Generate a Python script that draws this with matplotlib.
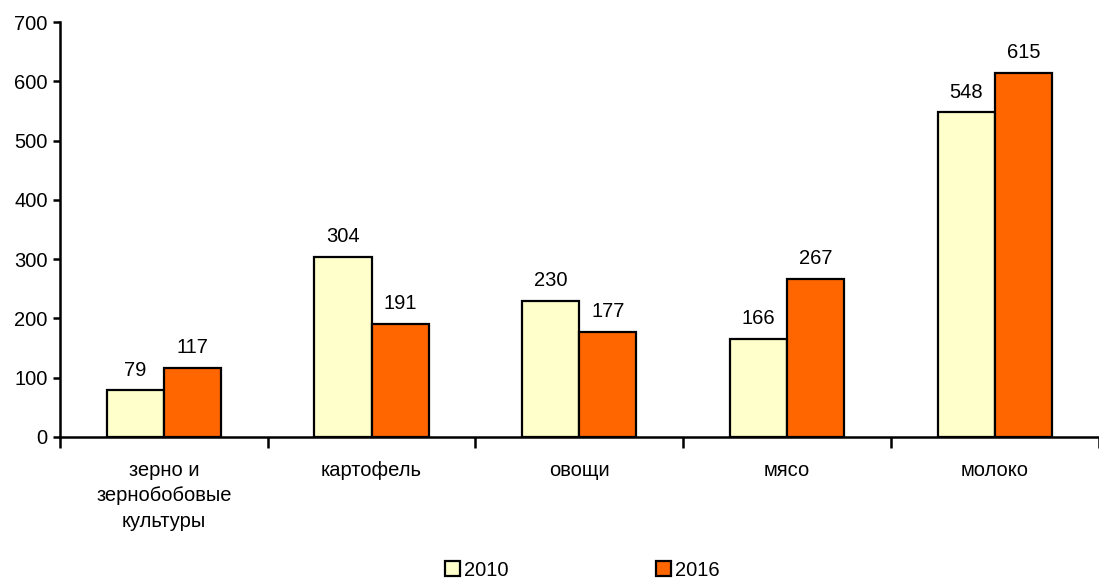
import numpy as np
import matplotlib
matplotlib.use("Agg")
import matplotlib.pyplot as plt
from matplotlib.patches import Patch

plt.rcParams['font.family'] = ['Liberation Sans', 'DejaVu Sans']

# data
categories = ["зерно и\nзернобобовые\nкультуры", "картофель", "овощи", "мясо", "молоко"]
series_names = ["2010", "2016"]
vals_2010 = [79, 304, 230, 166, 548]
vals_2016 = [117, 191, 177, 267, 615]
colors = ["#FFFFCC", "#FF6600"]

FS = 14.5

fig = plt.figure(figsize=(10.99, 5.85), dpi=100)
ax = fig.add_axes([0.0546, 0.253, 0.945, 0.709])

x = np.arange(len(categories))
w = 0.275
for off, vals, c in [(-w / 2, vals_2010, colors[0]), (w / 2, vals_2016, colors[1])]:
    bars = ax.bar(x + off, vals, width=w, color=c, edgecolor="black", linewidth=1.6, zorder=3)
    for b, v in zip(bars, vals):
        ax.text(b.get_x() + b.get_width() / 2, v + 18, str(v), ha="center", va="bottom", fontsize=FS)

ax.set_xlim(-0.5, len(categories) - 0.5)
ax.set_ylim(0, 700)
ax.set_yticks(range(0, 701, 100))
ax.tick_params(axis="y", labelsize=FS, length=5, width=1.8, direction="out", pad=4)

ax.set_xticks(x)
ax.set_xticklabels(categories, fontsize=FS, linespacing=1.45)
ax.tick_params(axis="x", length=0, pad=17)
ax.set_xticks(np.arange(-0.5, len(categories)), minor=True)
ax.tick_params(axis="x", which="minor", length=8, width=1.8, direction="out")

for s in ["top", "right"]:
    ax.spines[s].set_visible(False)
for s in ["left", "bottom"]:
    ax.spines[s].set_linewidth(1.8)

handles = [Patch(facecolor=c, edgecolor="black", linewidth=1.6) for c in colors]
fig.legend(handles, series_names, loc="lower center", bbox_to_anchor=(0.53, -0.022), ncol=2,
           frameon=False, fontsize=FS, handlelength=0.75, handleheight=0.75,
           handletextpad=0.2, columnspacing=7.3)

fig.savefig("out.png", dpi=100)
